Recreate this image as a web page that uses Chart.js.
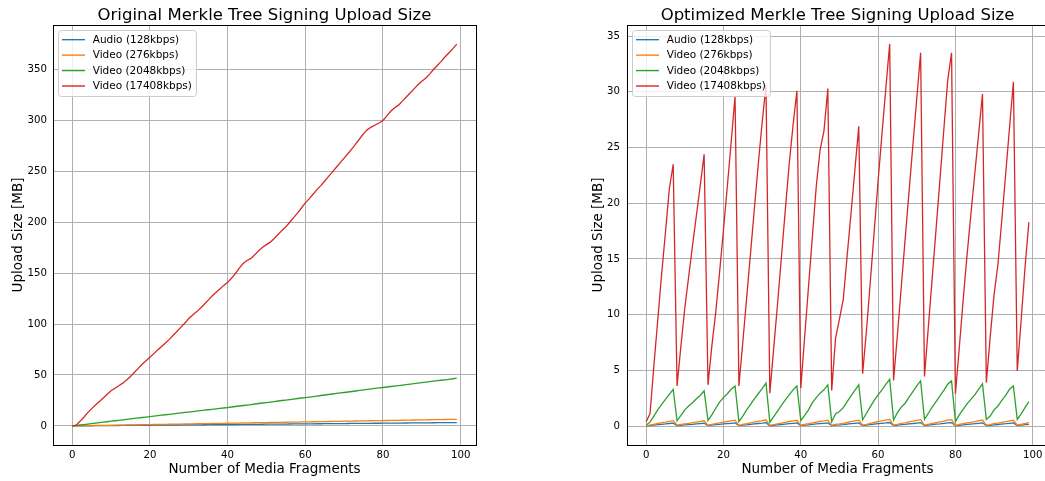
<!DOCTYPE html>
<html><head><meta charset="utf-8">
<script src="https://cdn.jsdelivr.net/npm/chart.js@4.4.1/dist/chart.umd.min.js"></script>
<style>
html,body{margin:0;padding:0;background:#fff;overflow:hidden;width:1045px;height:481px;}
#wl{position:absolute;left:0;top:0;width:520px;height:481px;}
#wr{position:absolute;left:560px;top:0;width:520px;height:481px;}
</style></head><body>
<div id="wl"><canvas id="cl" width="520" height="481"></canvas></div>
<div id="wr"><canvas id="cr" width="520" height="481"></canvas></div>
<script>
const fragments = [0,1,2,3,4,5,6,7,8,9,10,11,12,13,14,15,16,17,18,19,20,21,22,23,24,25,26,27,28,29,30,31,32,33,34,35,36,37,38,39,40,41,42,43,44,45,46,47,48,49,50,51,52,53,54,55,56,57,58,59,60,61,62,63,64,65,66,67,68,69,70,71,72,73,74,75,76,77,78,79,80,81,82,83,84,85,86,87,88,89,90,91,92,93,94,95,96,97,98,99];
const seriesLabels = ['Audio (128kbps)','Video (276kbps)','Video (2048kbps)','Video (17408kbps)'];
const xTicks = [0,20,40,60,80,100];
const origYTicks = [0,50,100,150,200,250,300,350];
const optYTicks = [0,5,10,15,20,25,30,35];

// Original Merkle tree signing (cumulative)
const origAudio = [0,0.03,0.07,0.1,0.13,0.17,0.2,0.23,0.27,0.3,
0.33,0.37,0.4,0.43,0.47,0.5,0.53,0.57,0.6,0.63,
0.67,0.7,0.73,0.77,0.8,0.83,0.87,0.9,0.93,0.97,
1,1.03,1.07,1.1,1.13,1.17,1.2,1.23,1.27,1.3,
1.33,1.37,1.4,1.43,1.47,1.5,1.53,1.57,1.6,1.63,
1.67,1.7,1.73,1.77,1.8,1.83,1.87,1.9,1.93,1.97,
2,2.03,2.07,2.1,2.13,2.17,2.2,2.23,2.27,2.3,
2.33,2.37,2.4,2.43,2.47,2.5,2.53,2.57,2.6,2.63,
2.67,2.7,2.73,2.77,2.8,2.83,2.87,2.9,2.93,2.97,
3,3.03,3.07,3.1,3.13,3.17,3.2,3.23,3.27,3.3];
const origVideo276 = [0,0.07,0.13,0.2,0.26,0.33,0.39,0.46,0.53,0.59,
0.66,0.72,0.79,0.85,0.92,0.99,1.05,1.12,1.18,1.25,
1.31,1.38,1.45,1.51,1.58,1.64,1.71,1.77,1.84,1.91,
1.97,2.04,2.1,2.17,2.23,2.3,2.37,2.43,2.5,2.56,
2.63,2.69,2.76,2.83,2.89,2.96,3.02,3.09,3.15,3.22,
3.29,3.35,3.42,3.48,3.55,3.61,3.68,3.74,3.81,3.88,
3.94,4.01,4.07,4.14,4.2,4.27,4.34,4.4,4.47,4.53,
4.6,4.66,4.73,4.8,4.86,4.93,4.99,5.06,5.12,5.19,
5.26,5.32,5.39,5.45,5.52,5.58,5.65,5.72,5.78,5.85,
5.91,5.98,6.04,6.11,6.18,6.24,6.31,6.37,6.44,6.5];
const origVideo2048 = [0,0.45,0.9,1.35,1.8,2.3,2.75,3.2,3.65,4.1,
4.6,5.05,5.5,5.95,6.4,6.85,7.35,7.8,8.25,8.7,
9.2,9.65,10.1,10.5,10.95,11.4,11.85,12.3,12.75,13.2,
13.6,14.05,14.5,14.95,15.4,15.85,16.3,16.7,17.15,17.6,
18.05,18.55,19.05,19.55,20.05,20.5,21,21.5,22,22.5,
22.95,23.45,23.95,24.45,24.95,25.4,25.9,26.4,26.9,27.4,
27.85,28.35,28.85,29.35,29.85,30.35,30.85,31.35,31.85,32.35,
32.8,33.3,33.8,34.3,34.8,35.3,35.8,36.3,36.8,37.25,
37.7,38.2,38.7,39.15,39.6,40.1,40.6,41.05,41.5,42,
42.5,42.95,43.4,43.9,44.4,44.85,45.3,45.8,46.3,46.9];
const origVideo17408 = [0,0.8,4.5,8.5,13,17,20.5,24,27.5,31,
34.5,37,39.5,42,45,48.5,52.5,56.5,60.5,64,
67.5,71,74.5,78,81.5,85,89,93,97,101,
105.5,109,112,115.5,119.5,123.5,127.5,131,134.5,138,
141,145,149.5,155,159.5,162.5,164.5,168,172,175.5,
178,180.5,184,188,192,195.5,200,204.5,209,214,
219,223,227.5,232,236,240.5,245,249.5,254,258.5,
263,267.5,272,277,282,287,291,293.5,295.5,297.5,
300,304.5,309,312.5,315,319,323,327,331,335,
338.5,341.5,345.5,350,354,358,362.5,366.5,370.5,375];

// Optimized Merkle tree signing (per group of 8)
const optAudio = [0.01,0.05,0.08,0.12,0.16,0.19,0.23,0.26,
0.04,0.07,0.1,0.13,0.16,0.19,0.22,0.25,
0.04,0.08,0.12,0.15,0.19,0.22,0.25,0.28,
0.04,0.08,0.11,0.15,0.19,0.23,0.26,0.3,
0.03,0.07,0.11,0.14,0.18,0.22,0.25,0.28,
0.04,0.08,0.11,0.15,0.19,0.22,0.25,0.28,
0.04,0.08,0.1,0.13,0.17,0.21,0.25,0.28,
0.04,0.08,0.13,0.17,0.21,0.25,0.28,0.32,
0.04,0.08,0.13,0.16,0.2,0.23,0.27,0.31,
0.04,0.08,0.13,0.17,0.2,0.24,0.28,0.31,
0.03,0.07,0.11,0.15,0.18,0.21,0.25,0.29,
0.04,0.07,0.11,0.14,0.18,0.21,0.25,0.28,
0.04,0.08,0.12,0.16];
const optVideo276 = [0.02,0.09,0.16,0.23,0.3,0.36,0.43,0.48,
0.08,0.14,0.2,0.25,0.3,0.36,0.41,0.47,
0.08,0.15,0.22,0.29,0.35,0.41,0.47,0.53,
0.07,0.14,0.21,0.29,0.36,0.43,0.49,0.56,
0.06,0.13,0.2,0.27,0.34,0.41,0.47,0.52,
0.08,0.15,0.21,0.29,0.35,0.41,0.46,0.53,
0.07,0.16,0.19,0.24,0.32,0.39,0.46,0.53,
0.08,0.16,0.24,0.32,0.39,0.46,0.53,0.6,
0.08,0.16,0.24,0.29,0.37,0.44,0.51,0.58,
0.08,0.16,0.24,0.31,0.38,0.45,0.53,0.58,
0.06,0.14,0.21,0.28,0.34,0.4,0.47,0.54,
0.08,0.13,0.21,0.26,0.33,0.39,0.47,0.52,
0.08,0.16,0.23,0.31];
const optVideo2048 = [0.1,0.35,0.9,1.45,1.95,2.4,2.85,3.3,
0.47,0.95,1.45,1.8,2.1,2.45,2.75,3.16,
0.5,1.0,1.6,2.15,2.55,2.9,3.3,3.6,
0.4,0.9,1.45,1.95,2.45,2.9,3.35,3.85,
0.35,0.85,1.35,1.85,2.35,2.8,3.25,3.6,
0.5,0.95,1.45,2.1,2.55,2.95,3.25,3.7,
0.4,1.1,1.3,1.65,2.2,2.7,3.2,3.7,
0.56,1.15,1.75,2.3,2.8,3.25,3.75,4.2,
0.55,1.2,1.7,2.05,2.6,3.1,3.6,4.05,
0.6,1.15,1.7,2.2,2.7,3.2,3.75,4.05,
0.4,1.0,1.5,2.0,2.4,2.8,3.3,3.8,
0.6,0.9,1.45,1.8,2.3,2.75,3.3,3.6,
0.6,1.1,1.65,2.2];
const optVideo17408 = [0.4,1.1,5.4,9.5,13.6,17.4,21.3,23.5,
3.6,7.2,10.6,13.4,16.2,18.9,21.6,24.4,
3.7,7.2,10.2,13.8,17.6,21.5,25.5,29.6,
3.6,7.5,11.5,15.5,19.5,23.5,27.2,30.6,
2.95,7,11,15.2,19.4,23.5,27,30.1,
3.4,8,12.5,17,21.5,24.8,26.5,30.3,
3.2,7.9,9.6,11.4,15.3,19.1,23,26.9,
4.7,8.6,13,17.5,22,26.2,30.3,34.3,
4.1,8.2,12.5,16.8,21,25.2,29.4,33.5,
4.45,8.9,13.3,17.7,22.1,26.6,31,33.5,
2.9,7,11.3,15.3,19,22.6,26.2,29.8,
3.9,8,11.8,14.5,18.5,22.6,26.8,30.9,
4.95,9.5,14.2,18.3];

const FONT = '"DejaVu Sans", Verdana, sans-serif';
const COLORS = ['#1f77b4','#ff7f0e','#2ca02c','#d62728'];

const framePlugin = {
  id: 'frame',
  afterDatasetsDraw(chart) {
    const {ctx, chartArea: a} = chart;
    ctx.save();
    ctx.strokeStyle = '#000';
    ctx.lineWidth = 1;
    const l = Math.round(a.left) + 0.5, t = Math.round(a.top) + 0.5;
    const r = Math.round(a.right) + 0.5, b = Math.round(a.bottom) + 0.5;
    ctx.strokeRect(l, t, r - l, b - t);
    ctx.restore();
  }
};

const legendPlugin = {
  id: 'mplLegend',
  afterDraw(chart) {
    const {ctx, chartArea: a} = chart;
    const ds = chart.data.datasets;
    ctx.save();
    ctx.font = '10.5px ' + FONT;
    let maxW = 0;
    ds.forEach(d => { maxW = Math.max(maxW, ctx.measureText(d.label).width); });
    const bx = Math.round(a.left) + 5.5, by = Math.round(a.top) + 5.5;
    const textX = a.left + 39.7;
    const bw = textX + maxW + 4.5 - bx, bh = 66;
    const rr = 3;
    ctx.beginPath();
    ctx.moveTo(bx + rr, by);
    ctx.lineTo(bx + bw - rr, by); ctx.arcTo(bx + bw, by, bx + bw, by + rr, rr);
    ctx.lineTo(bx + bw, by + bh - rr); ctx.arcTo(bx + bw, by + bh, bx + bw - rr, by + bh, rr);
    ctx.lineTo(bx + rr, by + bh); ctx.arcTo(bx, by + bh, bx, by + bh - rr, rr);
    ctx.lineTo(bx, by + rr); ctx.arcTo(bx, by, bx + rr, by, rr);
    ctx.closePath();
    ctx.fillStyle = 'rgba(255,255,255,0.8)';
    ctx.fill();
    ctx.strokeStyle = '#cccccc';
    ctx.lineWidth = 1;
    ctx.stroke();
    ds.forEach((d, k) => {
      const cy = a.top + 14.7 + k * 15.45;
      ctx.beginPath();
      ctx.moveTo(a.left + 9, cy);
      ctx.lineTo(a.left + 32, cy);
      ctx.strokeStyle = d.borderColor;
      ctx.lineWidth = 1.4;
      ctx.stroke();
      ctx.fillStyle = '#000';
      ctx.textBaseline = 'middle';
      ctx.textAlign = 'left';
      ctx.fillText(d.label, textX, cy + 0.5);
    });
    ctx.restore();
  }
};

function makeDatasets(arrays) {
  return arrays.map((arr, i) => ({
    label: seriesLabels[i],
    data: fragments.map((f, j) => ({x: f, y: arr[j]})),
    borderColor: COLORS[i],
    backgroundColor: COLORS[i],
    borderWidth: 1.3,
    pointRadius: 0,
    tension: 0,
    fill: false,
    order: 3 - i
  }));
}

function makeChart(canvasId, title, datasets, yMin, yMax, yTicks, yWidth, yTitlePad, yTickPad) {
  return new Chart(document.getElementById(canvasId), {
    type: 'line',
    data: { datasets },
    options: {
      responsive: false,
      animation: false,
      devicePixelRatio: 1,
      layout: { padding: { left: 0, right: canvasId === 'cl' ? 44 : 32, top: 0, bottom: 0 } },
      plugins: {
        legend: { display: false },
        tooltip: { enabled: false },
        title: {
          display: true, text: title, color: '#000', fullSize: false,
          font: { family: FONT, size: 16.5, weight: 'normal', lineHeight: 1.18 },
          padding: { top: 5.5, bottom: 0 }
        }
      },
      scales: {
        x: {
          type: 'linear', min: -4.95, max: 103.95,
          afterBuildTicks: s => { s.ticks = xTicks.map(v => ({ value: v })); },
          afterFit: s => { s.height = 36; },
          ticks: { color: '#000', font: { family: FONT, size: 10.2 }, padding: 4, maxRotation: 0, autoSkip: false },
          grid: { color: '#b0b0b0', lineWidth: 1, drawTicks: false },
          border: { display: false },
          title: { display: true, text: 'Number of Media Fragments', color: '#000',
                   font: { family: FONT, size: 13.5 }, padding: { top: 0, bottom: 3.6 } }
        },
        y: {
          type: 'linear', min: yMin, max: yMax,
          afterBuildTicks: s => { s.ticks = yTicks.map(v => ({ value: v })); },
          afterFit: s => { s.width = yWidth; },
          ticks: { color: '#000', font: { family: FONT, size: 10.2 }, padding: yTickPad, autoSkip: false },
          grid: { color: '#b0b0b0', lineWidth: 1, drawTicks: false },
          border: { display: false },
          title: { display: true, text: 'Upload Size [MB]', color: '#000',
                   font: { family: FONT, size: 13.5 }, padding: { top: yTitlePad, bottom: 0 } }
        }
      }
    },
    plugins: [framePlugin, legendPlugin]
  });
}

makeChart('cl', 'Original Merkle Tree Signing Upload Size',
  makeDatasets([origAudio, origVideo276, origVideo2048, origVideo17408]),
  -18.75, 393.75, origYTicks, 53, 10.5, 6);
makeChart('cr', 'Optimized Merkle Tree Signing Upload Size',
  makeDatasets([optAudio, optVideo276, optVideo2048, optVideo17408]),
  -1.7, 36.0, optYTicks, 67, 30.5, 7);
</script>
</body></html>
